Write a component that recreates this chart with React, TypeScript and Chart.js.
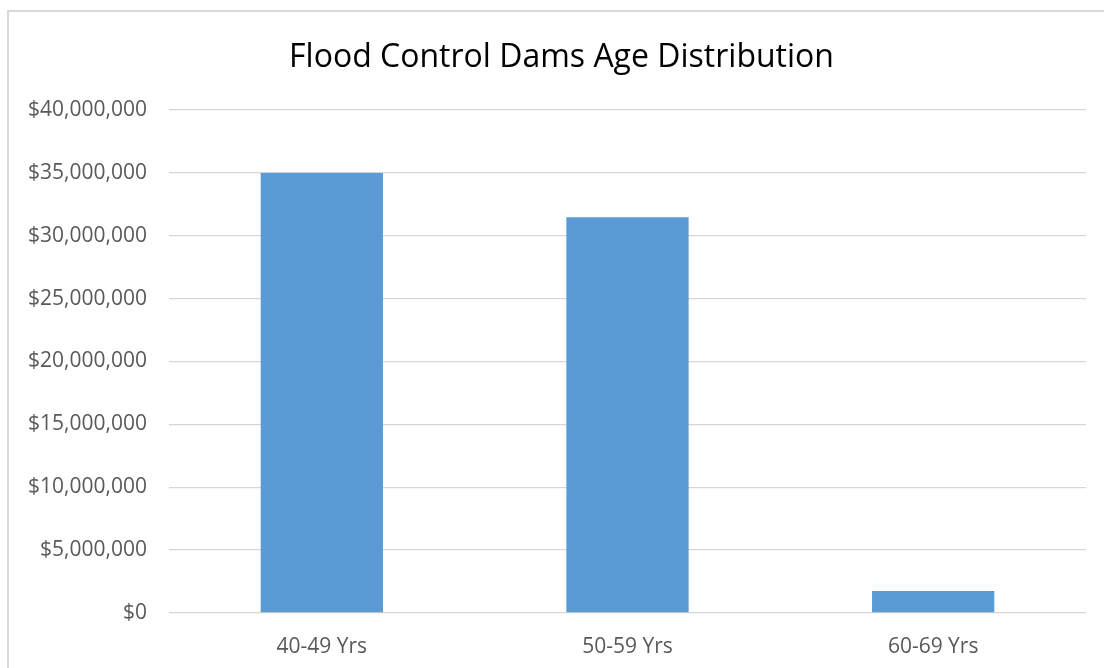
import React, { useEffect, useRef } from "react";
import { Chart, registerables } from "chart.js";

Chart.register(...registerables);

const categories = ["40-49 Yrs", "50-59 Yrs", "60-69 Yrs"];
const costs = [35000000, 31470000, 1750000];
const yTicks = [0, 5000000, 10000000, 15000000, 20000000, 25000000, 30000000, 35000000, 40000000];

const FONT = "'Open Sans', 'Liberation Sans', sans-serif";

export default function App() {
  const canvasRef = useRef<HTMLCanvasElement | null>(null);

  useEffect(() => {
    if (!canvasRef.current) return;
    const chart = new Chart(canvasRef.current, {
      type: "bar",
      data: {
        labels: categories,
        datasets: [
          {
            label: "Cost",
            data: costs,
            backgroundColor: "#5B9BD5",
            borderWidth: 0,
            categoryPercentage: 1,
            barPercentage: 0.4,
          },
        ],
      },
      options: {
        responsive: false,
        animation: false,
        layout: { padding: 0 },
        plugins: {
          legend: { display: false },
          tooltip: { enabled: false },
          title: {
            display: true,
            text: "Flood Control Dams Age Distribution",
            color: "#000000",
            font: { family: FONT, size: 32, weight: "normal" },
            padding: { top: 27, bottom: 32.6 },
          },
        },
        scales: {
          x: {
            grid: { display: false, drawTicks: false },
            border: { display: false },
            ticks: {
              color: "#595959",
              font: { family: FONT, size: 21 },
              padding: 21,
            },
            afterFit: (s: any) => {
              s.height = 55;
            },
          },
          y: {
            min: 0,
            max: 40000000,
            afterBuildTicks: (s: any) => {
              s.ticks = yTicks.map((v) => ({ value: v }));
            },
            grid: { color: "#d6d6d6", lineWidth: 1.3, drawTicks: false },
            border: { display: false },
            ticks: {
              color: "#595959",
              font: { family: FONT, size: 21 },
              padding: 22,
              callback: (v: any) => "$" + Number(v).toLocaleString("en-US"),
            },
            afterFit: (s: any) => {
              s.width = 160;
            },
          },
          yRight: {
            type: "linear",
            position: "right",
            display: true,
            grid: { display: false, drawTicks: false },
            border: { display: false },
            ticks: { display: false },
            afterFit: (s: any) => {
              s.width = 28;
            },
          },
        },
      },
    });
    return () => chart.destroy();
  }, []);

  return (
    <div
      style={{
        position: "absolute",
        left: 7,
        top: 10,
        width: 1097,
        height: 658,
        borderTop: "2px solid #d9d9d9",
        borderLeft: "2px solid #d9d9d9",
        overflow: "hidden",
        background: "#ffffff",
      }}
    >
      <canvas
        ref={canvasRef}
        width={1105}
        height={656}
        style={{ display: "block", width: 1105, height: 656 }}
      />
    </div>
  );
}
